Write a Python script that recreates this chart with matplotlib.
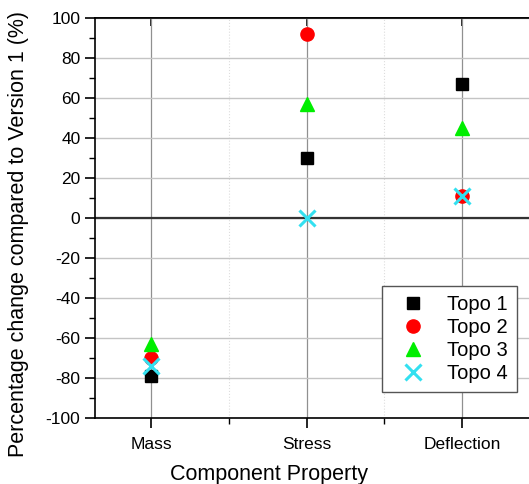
import numpy as np
import matplotlib.pyplot as plt
from matplotlib.ticker import MultipleLocator

plt.rcParams['font.family'] = ['Liberation Sans', 'DejaVu Sans']
plt.rcParams['axes.unicode_minus'] = False

categories = ['Mass', 'Stress', 'Deflection']
topo1 = [-79, 30, 67]
topo2 = [-70, 92, 11]
topo3 = [-63, 57, 45]
topo4 = [-74, 0, 11]

fig = plt.figure(figsize=(5.29, 4.84), dpi=100)
ax = fig.add_axes([95/529, 66/484, 445/529, 400/484])

x = np.arange(1, len(categories) + 1)

ax.plot(x, topo1, 's', color='black', markersize=8.5, label='Topo 1', zorder=3)
ax.plot(x, topo2, 'o', color='#ff0000', markersize=9.5, label='Topo 2', zorder=3)
ax.plot(x, topo3, '^', color='#00ee00', markersize=10.5, label='Topo 3', zorder=3)
ax.plot(x, topo4, 'x', color='#33e0f0', markersize=11.5, markeredgewidth=2.2, label='Topo 4', zorder=4)

ax.axhline(0, color='#333333', lw=1.6, zorder=2)

ax.set_xlim(0.64, 3.5)
ax.set_ylim(-100, 100)
ax.set_xticks(x)
ax.set_xticklabels(categories)
ax.set_xticks([1.5, 2.5], minor=True)
ax.yaxis.set_major_locator(MultipleLocator(20))
ax.yaxis.set_minor_locator(MultipleLocator(10))

ax.grid(which='major', axis='y', color='#c4c4c4', lw=1.0, zorder=0)
ax.grid(which='major', axis='x', color='#909090', lw=0.9, zorder=0)
ax.grid(which='minor', axis='x', color='#dddddd', lw=0.8, ls=':', zorder=0)

ax.tick_params(axis='both', which='major', direction='out', length=7, width=1.2, labelsize=12.5)
ax.tick_params(axis='both', which='minor', direction='out', length=4, width=1.0)
ax.tick_params(axis='x', which='major', pad=7)

# inward ticks on the top spine
top = ax.secondary_xaxis('top')
top.set_xticks(x)
top.tick_params(direction='in', length=6, width=1.2, labeltop=False)
top.spines['top'].set_linewidth(1.2)

for s in ax.spines.values():
    s.set_linewidth(1.2)

ax.set_xlabel('Component Property', fontsize=15.5)
ax.xaxis.set_label_coords((269 - 95) / 445, -0.115)
ax.set_ylabel('Percentage change compared to Version 1 (%)', fontsize=15.5)
ax.yaxis.set_label_coords(-0.148, 0.46)

leg = ax.legend(loc='lower right', bbox_to_anchor=(0.948, 0.065), borderaxespad=0,
                fontsize=14.5, fancybox=False, edgecolor='#555555', framealpha=1,
                handletextpad=0.6, labelspacing=0.2, borderpad=0.45, handlelength=2.2)
leg.get_frame().set_linewidth(1.0)

fig.savefig('out.png', dpi=100)
